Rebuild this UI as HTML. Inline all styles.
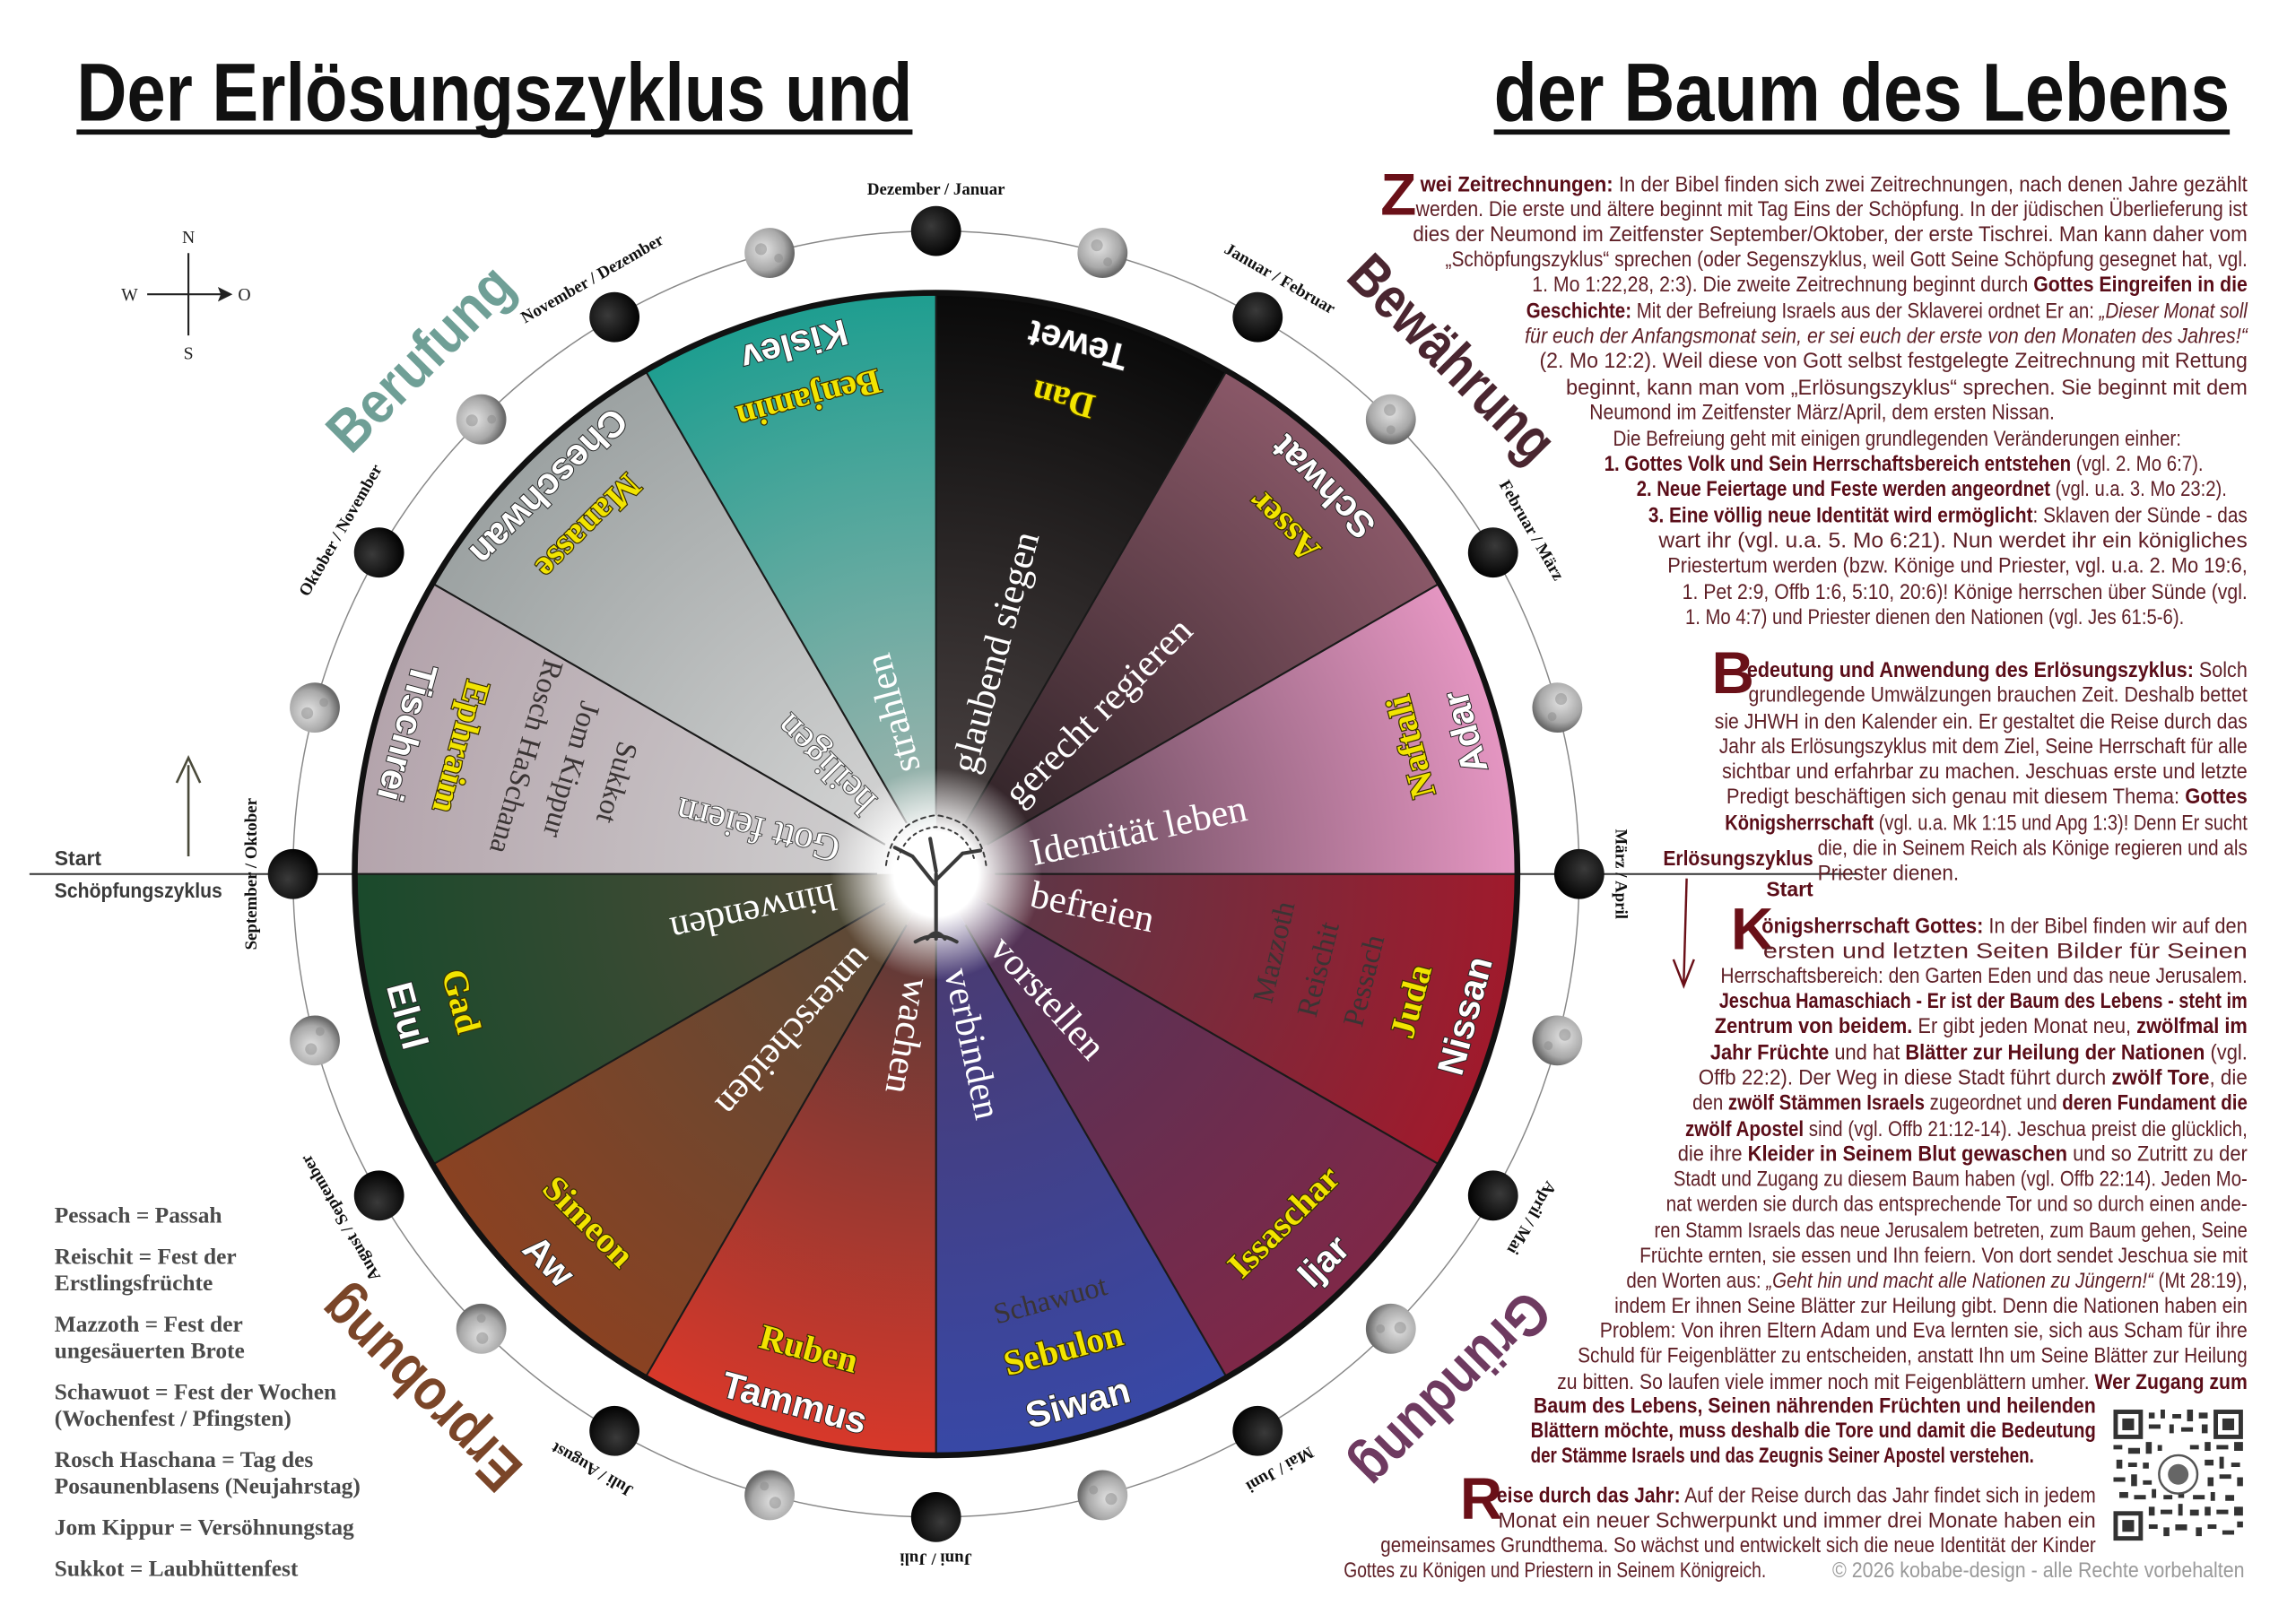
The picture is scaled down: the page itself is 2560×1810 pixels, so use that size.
<!DOCTYPE html>
<html><head><meta charset="utf-8"><style>
html,body{margin:0;padding:0;background:#fff}
svg{display:block}
.m{font-family:"Liberation Sans",sans-serif;font-weight:bold;font-size:25px;fill:#fff;stroke:#222;stroke-width:1.2;paint-order:stroke}
.t{font-family:"Liberation Serif",serif;font-weight:bold;font-size:24px;fill:#f2e400;stroke:#3a3000;stroke-width:1.5;paint-order:stroke}
.v{font-family:"Liberation Serif",serif;font-size:26px;fill:#fff}
.vs{stroke:#444;stroke-width:1.2;paint-order:stroke}
.f{font-family:"Liberation Serif",serif;font-size:20px;fill:#3a3434}
.r{font-family:"Liberation Serif",serif;font-weight:bold;font-size:11.5px;fill:#111}
.big{font-family:"Liberation Sans",sans-serif;font-weight:bold;font-size:40px}
.p{font-family:"Liberation Sans",sans-serif;font-size:14.5px;fill:#5e1f26}
.p .b{font-weight:bold;fill:#5a0d18}
.p .i{font-style:italic}
.dc{font-family:"Liberation Sans",sans-serif;font-weight:bold;font-size:40px;fill:#6a1018}
.lg{font-family:"Liberation Serif",serif;font-weight:bold;font-size:15.5px;fill:#4a4a4a}
</style></head><body>
<svg width="2560" height="1810" viewBox="0 0 1560 1103" xmlns="http://www.w3.org/2000/svg">
<defs>
<radialGradient id="g0" gradientUnits="userSpaceOnUse" cx="0" cy="0" r="395"><stop offset="0.1" stop-color="#4a4242"/><stop offset="1" stop-color="#0a0a0a"/></radialGradient>
<radialGradient id="g1" gradientUnits="userSpaceOnUse" cx="0" cy="0" r="395"><stop offset="0.1" stop-color="#2e2226"/><stop offset="1" stop-color="#8a5868"/></radialGradient>
<radialGradient id="g2" gradientUnits="userSpaceOnUse" cx="0" cy="0" r="395"><stop offset="0.1" stop-color="#5a4250"/><stop offset="1" stop-color="#e596c2"/></radialGradient>
<radialGradient id="g3" gradientUnits="userSpaceOnUse" cx="0" cy="0" r="395"><stop offset="0.1" stop-color="#5a3848"/><stop offset="1" stop-color="#a01a2c"/></radialGradient>
<radialGradient id="g4" gradientUnits="userSpaceOnUse" cx="0" cy="0" r="395"><stop offset="0.1" stop-color="#503458"/><stop offset="1" stop-color="#7e2848"/></radialGradient>
<radialGradient id="g5" gradientUnits="userSpaceOnUse" cx="0" cy="0" r="395"><stop offset="0.1" stop-color="#4a3a70"/><stop offset="1" stop-color="#3848a6"/></radialGradient>
<radialGradient id="g6" gradientUnits="userSpaceOnUse" cx="0" cy="0" r="395"><stop offset="0.1" stop-color="#5a3a38"/><stop offset="1" stop-color="#d8382a"/></radialGradient>
<radialGradient id="g7" gradientUnits="userSpaceOnUse" cx="0" cy="0" r="395"><stop offset="0.1" stop-color="#5a4a38"/><stop offset="1" stop-color="#8a4222"/></radialGradient>
<radialGradient id="g8" gradientUnits="userSpaceOnUse" cx="0" cy="0" r="395"><stop offset="0.1" stop-color="#524a38"/><stop offset="1" stop-color="#1a4a2c"/></radialGradient>
<radialGradient id="g9" gradientUnits="userSpaceOnUse" cx="0" cy="0" r="395"><stop offset="0.1" stop-color="#cfcfcf"/><stop offset="1" stop-color="#b4a4ac"/></radialGradient>
<radialGradient id="g10" gradientUnits="userSpaceOnUse" cx="0" cy="0" r="395"><stop offset="0.1" stop-color="#d4d4d4"/><stop offset="1" stop-color="#9ca2a2"/></radialGradient>
<radialGradient id="g11" gradientUnits="userSpaceOnUse" cx="0" cy="0" r="395"><stop offset="0.1" stop-color="#a0b4ae"/><stop offset="1" stop-color="#1e9e90"/></radialGradient>
<radialGradient id="glow" cx="0.5" cy="0.5" r="0.5"><stop offset="0.4" stop-color="#fff"/><stop offset="1" stop-color="#fff" stop-opacity="0"/></radialGradient>
<radialGradient id="full" cx="0.4" cy="0.4" r="0.6"><stop offset="0" stop-color="#e4e4e4"/><stop offset="0.7" stop-color="#a8a8a8"/><stop offset="1" stop-color="#6a6a6a"/></radialGradient>
<radialGradient id="new" cx="0.4" cy="0.4" r="0.6"><stop offset="0" stop-color="#3a3a3a"/><stop offset="1" stop-color="#050505"/></radialGradient>
<path id="seg" d="M0,0 L0,-395 A395,395 0 0 1 197.5,-342.1 Z"/>
<g id="fm"><circle r="17" fill="url(#full)"/><circle cx="-5" cy="-4" r="4" fill="#8a8a8a" opacity="0.5"/><circle cx="5" cy="5" r="3" fill="#8a8a8a" opacity="0.5"/></g>
<circle id="nm" r="17" fill="url(#new)"/>
</defs>

<text x="52" y="82" font-family="Liberation Sans,sans-serif" font-weight="bold" font-size="56" fill="#111" textLength="568" lengthAdjust="spacingAndGlyphs">Der Erlösungszyklus und</text>
<rect x="52" y="88" width="568" height="3.5" fill="#111"/>
<text x="1015" y="82" font-family="Liberation Sans,sans-serif" font-weight="bold" font-size="56" fill="#111" textLength="500" lengthAdjust="spacingAndGlyphs">der Baum des Lebens</text>
<rect x="1015" y="88" width="500" height="3.5" fill="#111"/>

<g stroke="#222" stroke-width="1.3" fill="none"><line x1="128" y1="172" x2="128" y2="228"/><line x1="100" y1="200" x2="152" y2="200"/></g>
<path d="M158,200 L148,195 L150,200 L148,205 Z" fill="#222"/>
<g font-family="Liberation Serif,serif" font-size="12" fill="#222" text-anchor="middle">
<text x="128" y="165">N</text><text x="128" y="244">S</text><text x="88" y="204">W</text><text x="166" y="204">O</text></g>

<line x1="20" y1="594" x2="1262" y2="594" stroke="#333" stroke-width="1.2"/>
<text x="37" y="588" font-family="Liberation Sans,sans-serif" font-weight="bold" font-size="14" fill="#3a3a3a">Start</text>
<text x="37" y="610" font-family="Liberation Sans,sans-serif" font-weight="bold" font-size="14" fill="#3a3a3a" textLength="114" lengthAdjust="spacingAndGlyphs">Schöpfungszyklus</text>
<line x1="128" y1="582" x2="128" y2="520" stroke="#4a4a3a" stroke-width="1.6"/>
<path d="M120,532 L128,515 L136,532" stroke="#4a4a3a" stroke-width="1.6" fill="none"/>
<text x="1232" y="588" text-anchor="end" font-family="Liberation Sans,sans-serif" font-weight="bold" font-size="14" fill="#5a0d18" textLength="102" lengthAdjust="spacingAndGlyphs">Erlösungszyklus</text>
<text x="1232" y="609" text-anchor="end" font-family="Liberation Sans,sans-serif" font-weight="bold" font-size="14" fill="#5a0d18">Start</text>
<line x1="1146" y1="597" x2="1144" y2="668" stroke="#6a1018" stroke-width="1.5"/>
<path d="M1137,652 L1144,670 L1151,652" stroke="#6a1018" stroke-width="1.5" fill="none"/>

<g transform="translate(636,594)">
<circle r="437" fill="none" stroke="#888" stroke-width="0.9"/>
<use href="#seg" fill="url(#g0)"/>
<use href="#seg" fill="url(#g1)" transform="rotate(30)"/>
<use href="#seg" fill="url(#g2)" transform="rotate(60)"/>
<use href="#seg" fill="url(#g3)" transform="rotate(90)"/>
<use href="#seg" fill="url(#g4)" transform="rotate(120)"/>
<use href="#seg" fill="url(#g5)" transform="rotate(150)"/>
<use href="#seg" fill="url(#g6)" transform="rotate(180)"/>
<use href="#seg" fill="url(#g7)" transform="rotate(210)"/>
<use href="#seg" fill="url(#g8)" transform="rotate(240)"/>
<use href="#seg" fill="url(#g9)" transform="rotate(270)"/>
<use href="#seg" fill="url(#g10)" transform="rotate(300)"/>
<use href="#seg" fill="url(#g11)" transform="rotate(330)"/>
<g stroke="#1a1a1a" stroke-width="1.3">
<line x1="0" y1="-40" x2="0" y2="-395" transform="rotate(0)"/>
<line x1="0" y1="-40" x2="0" y2="-395" transform="rotate(30)"/>
<line x1="0" y1="-40" x2="0" y2="-395" transform="rotate(60)"/>
<line x1="0" y1="-40" x2="0" y2="-395" transform="rotate(90)"/>
<line x1="0" y1="-40" x2="0" y2="-395" transform="rotate(120)"/>
<line x1="0" y1="-40" x2="0" y2="-395" transform="rotate(150)"/>
<line x1="0" y1="-40" x2="0" y2="-395" transform="rotate(180)"/>
<line x1="0" y1="-40" x2="0" y2="-395" transform="rotate(210)"/>
<line x1="0" y1="-40" x2="0" y2="-395" transform="rotate(240)"/>
<line x1="0" y1="-40" x2="0" y2="-395" transform="rotate(270)"/>
<line x1="0" y1="-40" x2="0" y2="-395" transform="rotate(300)"/>
<line x1="0" y1="-40" x2="0" y2="-395" transform="rotate(330)"/>
</g>
<circle r="395" fill="none" stroke="#111" stroke-width="4"/>
<circle r="72" fill="url(#glow)"/>
<g stroke="#3a3a3a" fill="none" stroke-linecap="round">
<path d="M0,44 L0,0 M0,8 L-16,-12 M0,4 L18,-14 M0,-2 L-4,-24 M-16,-12 L-28,-18 M18,-14 L30,-16 M-6,44 Q0,36 6,44 M-14,46 Q0,38 14,46" stroke-width="2.5"/>
<path d="M-34,-6 Q-30,-36 0,-40 Q30,-36 34,-6" stroke-width="1.2" stroke-dasharray="3 3"/>
<path d="M-26,-10 Q-20,-30 0,-32 Q20,-30 26,-10" stroke-width="1.2" stroke-dasharray="2 3"/>
</g>

<text class="m" text-anchor="middle" dominant-baseline="central" transform="rotate(15) translate(0,-372) rotate(180)">Tewet</text>
<text class="m" text-anchor="middle" dominant-baseline="central" transform="rotate(45) translate(0,-372) rotate(180)">Schwat</text>
<text class="m" text-anchor="middle" dominant-baseline="central" transform="rotate(75) translate(0,-372) rotate(180)">Adar</text>
<text class="m" text-anchor="middle" dominant-baseline="central" transform="rotate(105) translate(0,-372) rotate(180)">Nissan</text>
<text class="m" text-anchor="middle" dominant-baseline="central" transform="rotate(135) translate(0,-372) rotate(180)">Ijar</text>
<text class="m" text-anchor="middle" dominant-baseline="central" transform="rotate(165) translate(0,-372) rotate(180)">Siwan</text>
<text class="m" text-anchor="middle" dominant-baseline="central" transform="rotate(195) translate(0,-372) rotate(180)">Tammus</text>
<text class="m" text-anchor="middle" dominant-baseline="central" transform="rotate(225) translate(0,-372) rotate(180)">Aw</text>
<text class="m" text-anchor="middle" dominant-baseline="central" transform="rotate(255) translate(0,-372) rotate(180)">Elul</text>
<text class="m" text-anchor="middle" dominant-baseline="central" transform="rotate(285) translate(0,-372) rotate(180)">Tischrei</text>
<text class="m" text-anchor="middle" dominant-baseline="central" transform="rotate(315) translate(0,-372) rotate(180)">Cheschwan</text>
<text class="m" text-anchor="middle" dominant-baseline="central" transform="rotate(345) translate(0,-372) rotate(180)">Kislev</text>
<text class="t" text-anchor="middle" dominant-baseline="central" transform="rotate(15) translate(0,-334) rotate(180)">Dan</text>
<text class="t" text-anchor="middle" dominant-baseline="central" transform="rotate(45) translate(0,-334) rotate(180)">Asser</text>
<text class="t" text-anchor="middle" dominant-baseline="central" transform="rotate(75) translate(0,-334) rotate(180)">Naftali</text>
<text class="t" text-anchor="middle" dominant-baseline="central" transform="rotate(105) translate(0,-334) rotate(180)">Juda</text>
<text class="t" text-anchor="middle" dominant-baseline="central" transform="rotate(135) translate(0,-334) rotate(180)">Issaschar</text>
<text class="t" text-anchor="middle" dominant-baseline="central" transform="rotate(165) translate(0,-334) rotate(180)">Sebulon</text>
<text class="t" text-anchor="middle" dominant-baseline="central" transform="rotate(195) translate(0,-334) rotate(180)">Ruben</text>
<text class="t" text-anchor="middle" dominant-baseline="central" transform="rotate(225) translate(0,-334) rotate(180)">Simeon</text>
<text class="t" text-anchor="middle" dominant-baseline="central" transform="rotate(255) translate(0,-334) rotate(180)">Gad</text>
<text class="t" text-anchor="middle" dominant-baseline="central" transform="rotate(285) translate(0,-334) rotate(180)">Ephraim</text>
<text class="t" text-anchor="middle" dominant-baseline="central" transform="rotate(315) translate(0,-334) rotate(180)">Manasse</text>
<text class="t" text-anchor="middle" dominant-baseline="central" transform="rotate(345) translate(0,-334) rotate(180)">Benjamin</text>
<text class="f" text-anchor="middle" dominant-baseline="central" transform="rotate(103) translate(0,-236) rotate(180)">Mazzoth</text>
<text class="f" text-anchor="middle" dominant-baseline="central" transform="rotate(104) translate(0,-268) rotate(180)">Reischit</text>
<text class="f" text-anchor="middle" dominant-baseline="central" transform="rotate(104) translate(0,-300) rotate(180)">Pessach</text>
<text class="f" text-anchor="middle" dominant-baseline="central" transform="rotate(165) translate(0,-300) rotate(180)">Schawuot</text>
<text class="f" text-anchor="middle" dominant-baseline="central" transform="rotate(286) translate(0,-226) rotate(180)">Sukkot</text>
<text class="f" text-anchor="middle" dominant-baseline="central" transform="rotate(286) translate(0,-258) rotate(180)">Jom Kippur</text>
<text class="f" text-anchor="middle" dominant-baseline="central" transform="rotate(286) translate(0,-290) rotate(180)">Rosch HaSchana</text>
<text class="v" dominant-baseline="central" transform="rotate(-75) translate(72,0)">glaubend siegen</text>
<text class="v" dominant-baseline="central" transform="rotate(-45) translate(72,0)">gerecht regieren</text>
<text class="v" dominant-baseline="central" transform="rotate(-12) translate(66,0)">Identität leben</text>
<text class="v" dominant-baseline="central" transform="rotate(12) translate(66,0)">befreien</text>
<text class="v" dominant-baseline="central" transform="rotate(48) translate(62,0)">vorstellen</text>
<text class="v" dominant-baseline="central" transform="rotate(78) translate(66,0)">verbinden</text>
<text class="v" dominant-baseline="central" transform="rotate(100) translate(72,0)">wachen</text>
<text class="v" dominant-baseline="central" transform="rotate(132) translate(72,0)">unterscheiden</text>
<text class="v" dominant-baseline="central" transform="rotate(168) translate(70,0)">hinwenden</text>
<text class="v vs" dominant-baseline="central" transform="rotate(194) translate(68,0)">Gott feiern</text>
<text class="v vs" dominant-baseline="central" transform="rotate(225) translate(64,0)">heiligen</text>
<text class="v" dominant-baseline="central" transform="rotate(255) translate(72,0)">strahlen</text>

<use href="#nm" transform="rotate(0) translate(0,-437)"/>
<use href="#nm" transform="rotate(30) translate(0,-437)"/>
<use href="#nm" transform="rotate(60) translate(0,-437)"/>
<use href="#nm" transform="rotate(90) translate(0,-437)"/>
<use href="#nm" transform="rotate(120) translate(0,-437)"/>
<use href="#nm" transform="rotate(150) translate(0,-437)"/>
<use href="#nm" transform="rotate(180) translate(0,-437)"/>
<use href="#nm" transform="rotate(210) translate(0,-437)"/>
<use href="#nm" transform="rotate(240) translate(0,-437)"/>
<use href="#nm" transform="rotate(270) translate(0,-437)"/>
<use href="#nm" transform="rotate(300) translate(0,-437)"/>
<use href="#nm" transform="rotate(330) translate(0,-437)"/>
<use href="#fm" transform="rotate(15) translate(0,-437)"/>
<use href="#fm" transform="rotate(45) translate(0,-437)"/>
<use href="#fm" transform="rotate(75) translate(0,-437)"/>
<use href="#fm" transform="rotate(105) translate(0,-437)"/>
<use href="#fm" transform="rotate(135) translate(0,-437)"/>
<use href="#fm" transform="rotate(165) translate(0,-437)"/>
<use href="#fm" transform="rotate(195) translate(0,-437)"/>
<use href="#fm" transform="rotate(225) translate(0,-437)"/>
<use href="#fm" transform="rotate(255) translate(0,-437)"/>
<use href="#fm" transform="rotate(285) translate(0,-437)"/>
<use href="#fm" transform="rotate(315) translate(0,-437)"/>
<use href="#fm" transform="rotate(345) translate(0,-437)"/>
<text class="r" text-anchor="middle" dominant-baseline="central" transform="rotate(0) translate(0,-465)">Dezember / Januar</text>
<text class="r" text-anchor="middle" dominant-baseline="central" transform="rotate(30) translate(0,-467)">Januar / Februar</text>
<text class="r" text-anchor="middle" dominant-baseline="central" transform="rotate(60) translate(0,-467)">Februar / März</text>
<text class="r" text-anchor="middle" dominant-baseline="central" transform="rotate(90) translate(0,-465)">März / April</text>
<text class="r" text-anchor="middle" dominant-baseline="central" transform="rotate(120) translate(0,-467)">April / Mai</text>
<text class="r" text-anchor="middle" dominant-baseline="central" transform="rotate(150) translate(0,-467)">Mai / Juni</text>
<text class="r" text-anchor="middle" dominant-baseline="central" transform="rotate(180) translate(0,-465)">Juni / Juli</text>
<text class="r" text-anchor="middle" dominant-baseline="central" transform="rotate(210) translate(0,-467)">Juli / August</text>
<text class="r" text-anchor="middle" dominant-baseline="central" transform="rotate(240) translate(0,-467)">August / September</text>
<text class="r" text-anchor="middle" dominant-baseline="central" transform="rotate(270) translate(0,-465)">September / Oktober</text>
<text class="r" text-anchor="middle" dominant-baseline="central" transform="rotate(300) translate(0,-467)">Oktober / November</text>
<text class="r" text-anchor="middle" dominant-baseline="central" transform="rotate(330) translate(0,-467)">November / Dezember</text>
<text class="big" fill="#6f9f96" text-anchor="middle" dominant-baseline="central" transform="rotate(-45) translate(0,-496)" textLength="160" lengthAdjust="spacingAndGlyphs">Berufung</text>
<text class="big" fill="#4a2630" text-anchor="middle" dominant-baseline="central" transform="rotate(45) translate(0,-496)" textLength="180" lengthAdjust="spacingAndGlyphs">Bewährung</text>
<text class="big" fill="#6e3a60" text-anchor="middle" dominant-baseline="central" transform="rotate(135) translate(0,-496)" textLength="170" lengthAdjust="spacingAndGlyphs">Gründung</text>
<text class="big" fill="#7a4528" text-anchor="middle" dominant-baseline="central" transform="rotate(225) translate(0,-496)" textLength="175" lengthAdjust="spacingAndGlyphs">Erprobung</text>
</g>

<g class="lg">
<text x="37" y="831">Pessach = Passah</text>
<text x="37" y="859">Reischit = Fest der</text>
<text x="37" y="877">Erstlingsfrüchte</text>
<text x="37" y="905">Mazzoth = Fest der</text>
<text x="37" y="923">ungesäuerten Brote</text>
<text x="37" y="951">Schawuot = Fest der Wochen</text>
<text x="37" y="969">(Wochenfest / Pfingsten)</text>
<text x="37" y="997">Rosch Haschana = Tag des</text>
<text x="37" y="1015">Posaunenblasens (Neujahrstag)</text>
<text x="37" y="1043">Jom Kippur = Versöhnungstag</text>
<text x="37" y="1071">Sukkot = Laubhüttenfest</text>
</g>

<text class="dc" x="938" y="146">Z</text>
<text class="dc" x="1163" y="471">B</text>
<text class="dc" x="1176" y="645">K</text>
<text class="dc" x="992" y="1032">R</text>
<g class="p">
<text x="965" y="130" textLength="562" lengthAdjust="spacingAndGlyphs"><tspan class="b">wei Zeitrechnungen:</tspan> In der Bibel finden sich zwei Zeitrechnungen, nach denen Jahre gezählt</text>
<text x="962" y="147" textLength="565" lengthAdjust="spacingAndGlyphs">werden. Die erste und ältere beginnt mit Tag Eins der Schöpfung. In der jüdischen Überlieferung ist</text>
<text x="960" y="164" textLength="567" lengthAdjust="spacingAndGlyphs">dies der Neumond im Zeitfenster September/Oktober, der erste Tischrei. Man kann daher vom</text>
<text x="982" y="181" textLength="545" lengthAdjust="spacingAndGlyphs">„Schöpfungszyklus“ sprechen (oder Segenszyklus, weil Gott Seine Schöpfung gesegnet hat, vgl.</text>
<text x="1041" y="198" textLength="486" lengthAdjust="spacingAndGlyphs">1. Mo 1:22,28, 2:3). Die zweite Zeitrechnung beginnt durch <tspan class="b">Gottes Eingreifen in die</tspan></text>
<text x="1037" y="216" textLength="490" lengthAdjust="spacingAndGlyphs"><tspan class="b">Geschichte:</tspan> Mit der Befreiung Israels aus der Sklaverei ordnet Er an: <tspan class="i">„Dieser Monat soll</tspan></text>
<text x="1036" y="233" textLength="491" lengthAdjust="spacingAndGlyphs" class="i">für euch der Anfangsmonat sein, er sei euch der erste von den Monaten des Jahres!“</text>
<text x="1046" y="250" textLength="481" lengthAdjust="spacingAndGlyphs">(2. Mo 12:2). Weil diese von Gott selbst festgelegte Zeitrechnung mit Rettung</text>
<text x="1064" y="268" textLength="463" lengthAdjust="spacingAndGlyphs">beginnt, kann man vom „Erlösungszyklus“ sprechen. Sie beginnt mit dem</text>
<text x="1080" y="285" textLength="316" lengthAdjust="spacingAndGlyphs">Neumond im Zeitfenster März/April, dem ersten Nissan.</text>
<text x="1096" y="303" textLength="386" lengthAdjust="spacingAndGlyphs">Die Befreiung geht mit einigen grundlegenden Veränderungen einher:</text>
<text x="1090" y="320" textLength="407" lengthAdjust="spacingAndGlyphs"><tspan class="b">1. Gottes Volk und Sein Herrschaftsbereich entstehen</tspan> (vgl. 2. Mo 6:7).</text>
<text x="1112" y="337" textLength="401" lengthAdjust="spacingAndGlyphs"><tspan class="b">2. Neue Feiertage und Feste werden angeordnet</tspan> (vgl. u.a. 3. Mo 23:2).</text>
<text x="1120" y="355" textLength="407" lengthAdjust="spacingAndGlyphs"><tspan class="b">3. Eine völlig neue Identität wird ermöglicht</tspan>: Sklaven der Sünde - das</text>
<text x="1127" y="372" textLength="400" lengthAdjust="spacingAndGlyphs">wart ihr (vgl. u.a. 5. Mo 6:21). Nun werdet ihr ein königliches</text>
<text x="1133" y="389" textLength="394" lengthAdjust="spacingAndGlyphs">Priestertum werden (bzw. Könige und Priester, vgl. u.a. 2. Mo 19:6,</text>
<text x="1143" y="407" textLength="384" lengthAdjust="spacingAndGlyphs">1. Pet 2:9, Offb 1:6, 5:10, 20:6)! Könige herrschen über Sünde (vgl.</text>
<text x="1145" y="424" textLength="339" lengthAdjust="spacingAndGlyphs">1. Mo 4:7) und Priester dienen den Nationen (vgl. Jes 61:5-6).</text>

<text x="1187" y="460" textLength="340" lengthAdjust="spacingAndGlyphs"><tspan class="b">edeutung und Anwendung des Erlösungszyklus:</tspan> Solch</text>
<text x="1188" y="477" textLength="339" lengthAdjust="spacingAndGlyphs">grundlegende Umwälzungen brauchen Zeit. Deshalb bettet</text>
<text x="1165" y="495" textLength="362" lengthAdjust="spacingAndGlyphs">sie JHWH in den Kalender ein. Er gestaltet die Reise durch das</text>
<text x="1168" y="512" textLength="359" lengthAdjust="spacingAndGlyphs">Jahr als Erlösungszyklus mit dem Ziel, Seine Herrschaft für alle</text>
<text x="1170" y="529" textLength="357" lengthAdjust="spacingAndGlyphs">sichtbar und erfahrbar zu machen. Jeschuas erste und letzte</text>
<text x="1173" y="546" textLength="354" lengthAdjust="spacingAndGlyphs">Predigt beschäftigen sich genau mit diesem Thema: <tspan class="b">Gottes</tspan></text>
<text x="1172" y="564" textLength="355" lengthAdjust="spacingAndGlyphs"><tspan class="b">Königsherrschaft</tspan> (vgl. u.a. Mk 1:15 und Apg 1:3)! Denn Er sucht</text>
<text x="1235" y="581" textLength="292" lengthAdjust="spacingAndGlyphs">die, die in Seinem Reich als Könige regieren und als</text>
<text x="1235" y="598" textLength="96" lengthAdjust="spacingAndGlyphs">Priester dienen.</text>

<text x="1197" y="634" textLength="330" lengthAdjust="spacingAndGlyphs"><tspan class="b">önigsherrschaft Gottes:</tspan> In der Bibel finden wir auf den</text>
<text x="1198" y="651" textLength="329" lengthAdjust="spacingAndGlyphs">ersten und letzten Seiten Bilder für Seinen</text>
<text x="1169" y="668" textLength="358" lengthAdjust="spacingAndGlyphs">Herrschaftsbereich: den Garten Eden und das neue Jerusalem.</text>
<text x="1168" y="685" textLength="359" lengthAdjust="spacingAndGlyphs" class="b">Jeschua Hamaschiach - Er ist der Baum des Lebens - steht im</text>
<text x="1165" y="702" textLength="362" lengthAdjust="spacingAndGlyphs"><tspan class="b">Zentrum von beidem.</tspan> Er gibt jeden Monat neu, <tspan class="b">zwölfmal im</tspan></text>
<text x="1162" y="720" textLength="365" lengthAdjust="spacingAndGlyphs"><tspan class="b">Jahr Früchte</tspan> und hat <tspan class="b">Blätter zur Heilung der Nationen</tspan> (vgl.</text>
<text x="1154" y="737" textLength="373" lengthAdjust="spacingAndGlyphs">Offb 22:2). Der Weg in diese Stadt führt durch <tspan class="b">zwölf Tore</tspan>, die</text>
<text x="1150" y="754" textLength="377" lengthAdjust="spacingAndGlyphs">den <tspan class="b">zwölf Stämmen Israels</tspan> zugeordnet und <tspan class="b">deren Fundament die</tspan></text>
<text x="1145" y="772" textLength="382" lengthAdjust="spacingAndGlyphs"><tspan class="b">zwölf Apostel</tspan> sind (vgl. Offb 21:12-14). Jeschua preist die glücklich,</text>
<text x="1140" y="789" textLength="387" lengthAdjust="spacingAndGlyphs">die ihre <tspan class="b">Kleider in Seinem Blut gewaschen</tspan> und so Zutritt zu der</text>
<text x="1137" y="806" textLength="390" lengthAdjust="spacingAndGlyphs">Stadt und Zugang zu diesem Baum haben (vgl. Offb 22:14). Jeden Mo-</text>
<text x="1132" y="823" textLength="395" lengthAdjust="spacingAndGlyphs">nat werden sie durch das entsprechende Tor und so durch einen ande-</text>
<text x="1124" y="841" textLength="403" lengthAdjust="spacingAndGlyphs">ren Stamm Israels das neue Jerusalem betreten, zum Baum gehen, Seine</text>
<text x="1114" y="858" textLength="413" lengthAdjust="spacingAndGlyphs">Früchte ernten, sie essen und Ihn feiern. Von dort sendet Jeschua sie mit</text>
<text x="1105" y="875" textLength="422" lengthAdjust="spacingAndGlyphs">den Worten aus: <tspan class="i">„Geht hin und macht alle Nationen zu Jüngern!“</tspan> (Mt 28:19),</text>
<text x="1097" y="892" textLength="430" lengthAdjust="spacingAndGlyphs">indem Er ihnen Seine Blätter zur Heilung  gibt. Denn die Nationen haben ein</text>
<text x="1087" y="909" textLength="440" lengthAdjust="spacingAndGlyphs">Problem: Von ihren Eltern Adam und Eva lernten sie, sich aus Scham für ihre</text>
<text x="1072" y="926" textLength="455" lengthAdjust="spacingAndGlyphs">Schuld für Feigenblätter zu entscheiden, anstatt Ihn um Seine Blätter zur Heilung</text>
<text x="1058" y="944" textLength="469" lengthAdjust="spacingAndGlyphs">zu bitten. So laufen viele immer noch mit Feigenblättern umher. <tspan class="b">Wer Zugang zum</tspan></text>
<text x="1042" y="960" textLength="382" lengthAdjust="spacingAndGlyphs" class="b">Baum des Lebens, Seinen nährenden Früchten und heilenden</text>
<text x="1040" y="977" textLength="384" lengthAdjust="spacingAndGlyphs" class="b">Blättern möchte, muss deshalb die Tore und damit die Bedeutung</text>
<text x="1040" y="994" textLength="342" lengthAdjust="spacingAndGlyphs" class="b">der Stämme Israels und das Zeugnis Seiner Apostel verstehen.</text>

<text x="1017" y="1021" textLength="407" lengthAdjust="spacingAndGlyphs"><tspan class="b">eise durch das Jahr:</tspan> Auf der Reise durch das Jahr findet sich in jedem</text>
<text x="1018" y="1038" textLength="406" lengthAdjust="spacingAndGlyphs">Monat ein neuer Schwerpunkt und immer drei Monate haben ein</text>
<text x="938" y="1055" textLength="486" lengthAdjust="spacingAndGlyphs">gemeinsames Grundthema. So wächst und entwickelt sich die neue Identität der Kinder</text>
<text x="913" y="1072" textLength="287" lengthAdjust="spacingAndGlyphs">Gottes zu Königen und Priestern in Seinem Königreich.</text>
</g>
<text x="1245" y="1072" font-family="Liberation Sans,sans-serif" font-size="14.5" fill="#9a9a9a" textLength="280" lengthAdjust="spacingAndGlyphs">© 2026 kobabe-design - alle Rechte vorbehalten</text>

<g transform="translate(1436,958)" fill="#333">
<rect x="0" y="0" width="88" height="89" fill="#fff"/>
<rect x="0" y="0" width="20" height="20"/><rect x="3" y="3" width="14" height="14" fill="#fff"/><rect x="6" y="6" width="8" height="8"/>
<rect x="68" y="0" width="20" height="20"/><rect x="71" y="3" width="14" height="14" fill="#fff"/><rect x="74" y="6" width="8" height="8"/>
<rect x="0" y="69" width="20" height="20"/><rect x="3" y="72" width="14" height="14" fill="#fff"/><rect x="6" y="75" width="8" height="8"/>
<path d="M24,2h4v4h-4zM32,0h3v6h-3zM40,3h6v3h-6zM50,0h4v8h-4zM58,2h6v4h-6zM24,10h8v3h-8zM38,10h3v6h-3zM46,12h8v3h-8zM60,10h4v6h-4zM0,24h6v3h-6zM10,26h8v4h-8zM22,22h4v8h-4zM30,24h3v4h-3zM52,24h6v3h-6zM62,22h4v6h-4zM70,24h8v3h-8zM82,22h6v6h-6zM2,34h4v6h-4zM10,36h6v3h-6zM20,36h4v4h-4zM62,34h6v4h-6zM72,32h3v8h-3zM80,36h6v3h-6zM0,46h8v3h-8zM12,44h4v8h-4zM20,48h6v3h-6zM64,46h4v6h-4zM72,44h8v3h-8zM84,46h4v6h-4zM4,56h6v4h-6zM14,58h8v3h-8zM26,54h3v6h-3zM34,58h6v3h-6zM44,56h4v4h-4zM54,58h8v3h-8zM66,56h3v6h-3zM76,58h6v4h-6zM24,66h4v6h-4zM32,68h8v3h-8zM44,64h3v8h-3zM52,68h6v4h-6zM62,66h4v6h-4zM70,68h8v3h-8zM82,66h6v6h-6zM24,78h6v3h-6zM34,80h4v6h-4zM42,78h8v4h-8zM56,80h4v6h-4zM64,78h6v3h-6zM74,82h8v3h-8zM84,76h4v4h-4z"/>
<circle cx="44" cy="44" r="13" fill="#fff" stroke="#555" stroke-width="1.5"/><circle cx="44" cy="44" r="7" fill="#666"/>
</g>
</svg>
</body></html>
